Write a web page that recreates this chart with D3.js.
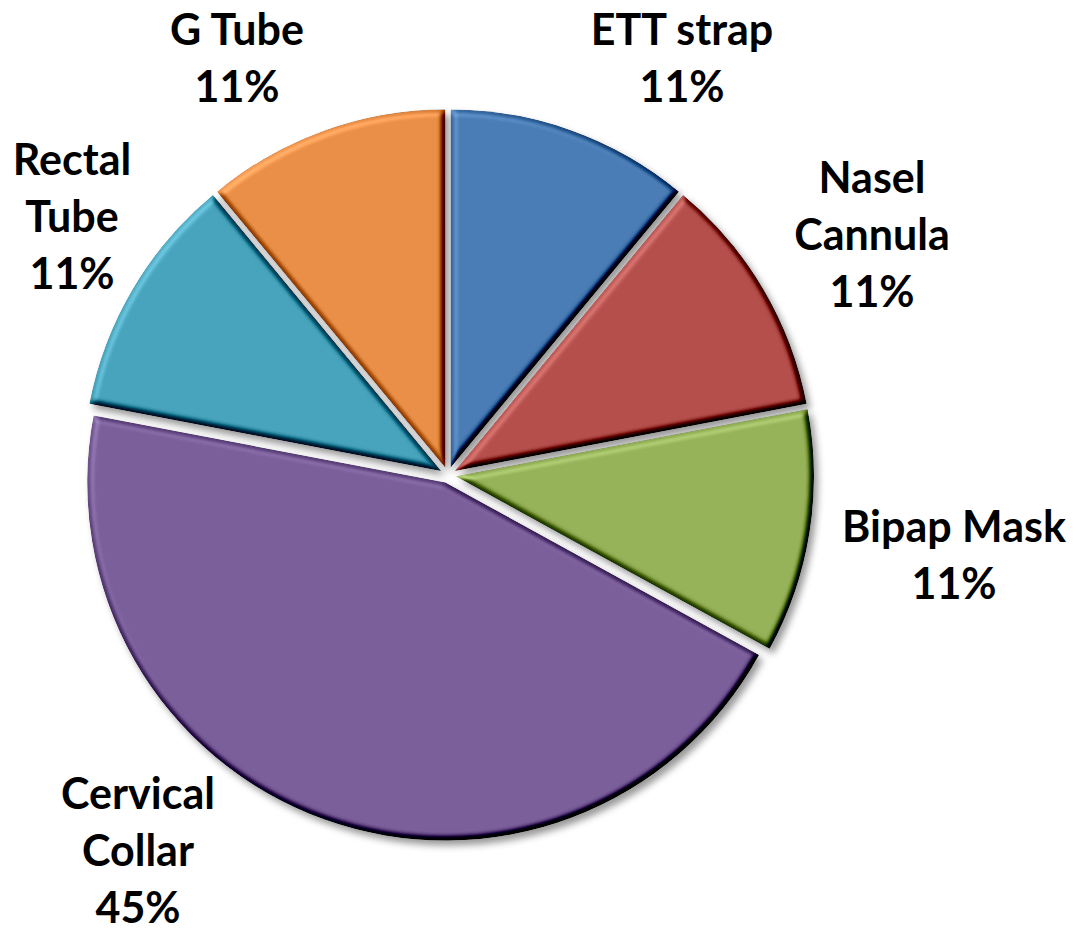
<!DOCTYPE html>
<html>
<head>
<meta charset="utf-8">
<script src="https://cdn.jsdelivr.net/npm/d3@7"></script>
<style>
  html, body { margin: 0; padding: 0; background: #ffffff; }
  svg { display: block; }
  .lbl { font-family: Lato, "Open Sans", sans-serif; font-weight: 700; fill: #000; }
</style>
</head>
<body>
<svg id="chart" width="1076" height="932"></svg>
<script>
// ---- data ----
const categories = ["ETT strap", "Nasel Cannula", "Bipap Mask", "Cervical Collar", "Rectal Tube", "G Tube"];
const values = [11, 11, 11, 45, 11, 11];
const colors = ["#4a7cb6", "#b54f4b", "#96b35a", "#7a5f9b", "#48a4bd", "#e98f48"];
// wrapped label lines (as shown in the chart)
const labelLines = [
  ["ETT strap"],
  ["Nasel", "Cannula"],
  ["Bipap Mask"],
  ["Cervical", "Collar"],
  ["Rectal", "Tube"],
  ["G Tube"]
];

// ---- layout ----
const W = 1076, H = 932;
const cx = 448, cy = 475, R = 358, explode = 8;
// label anchor: centre x and baseline of first line (layout only)
const labelAnchor = [
  [682, 45], [872, 193], [954, 542], [138, 809], [72, 175], [237, 45]
];
const lineH = 57;
const fontSize = 43;

const svg = d3.select("#chart");
const defs = svg.append("defs");

// shadow filter
const fs = defs.append("filter").attr("id", "shadow")
  .attr("x", "-20%").attr("y", "-20%").attr("width", "140%").attr("height", "140%");
fs.append("feGaussianBlur").attr("in", "SourceAlpha").attr("stdDeviation", 3.5).attr("result", "sb");
fs.append("feOffset").attr("in", "sb").attr("dx", 4).attr("dy", 5).attr("result", "so");
fs.append("feFlood").attr("flood-color", "#000").attr("flood-opacity", 0.4).attr("result", "fl");
fs.append("feComposite").attr("in", "fl").attr("in2", "so").attr("operator", "in");

// bevel filter
const fb = defs.append("filter").attr("id", "bevel")
  .attr("x", "-10%").attr("y", "-10%").attr("width", "120%").attr("height", "120%")
  .attr("color-interpolation-filters", "sRGB");
fb.append("feGaussianBlur").attr("in", "SourceAlpha").attr("stdDeviation", 3).attr("result", "b");
const dl = fb.append("feDiffuseLighting").attr("in", "b").attr("surfaceScale", 6)
  .attr("diffuseConstant", 1).attr("lighting-color", "#fff").attr("result", "d");
dl.append("feDistantLight").attr("azimuth", 225).attr("elevation", 60);
fb.append("feComposite").attr("in", "SourceGraphic").attr("in2", "d").attr("operator", "arithmetic")
  .attr("k1", 0).attr("k2", 1).attr("k3", 1).attr("k4", -0.866).attr("result", "lit");
fb.append("feComposite").attr("in", "lit").attr("in2", "SourceAlpha").attr("operator", "in");

const data = categories.map((c, i) => ({ name: c, v: values[i], color: colors[i], lines: labelLines[i], anchor: labelAnchor[i] }));
const pie = d3.pie().sort(null).value(d => d.v).startAngle(0).endAngle(2 * Math.PI);
const arcs = pie(data);
const arc = d3.arc().innerRadius(0).outerRadius(R);

function off(d) {
  const m = (d.startAngle + d.endAngle) / 2;
  return [Math.sin(m) * explode, -Math.cos(m) * explode];
}

const g = svg.append("g").attr("transform", `translate(${cx},${cy})`);

// shadows first
g.append("g").selectAll("path").data(arcs).join("path")
  .attr("d", arc)
  .attr("transform", d => `translate(${off(d)})`)
  .attr("fill", "#000")
  .attr("filter", "url(#shadow)");

// slices
g.append("g").selectAll("path").data(arcs).join("path")
  .attr("d", arc)
  .attr("transform", d => `translate(${off(d)})`)
  .attr("fill", d => d.data.color)
  .attr("filter", "url(#bevel)");

// labels
const fmt = d3.format(".0f");
const total = d3.sum(values);
const lg = svg.append("g");
data.forEach(d => {
  const t = lg.append("text").attr("class", "lbl")
    .attr("text-anchor", "middle")
    .attr("font-size", fontSize)
    .attr("x", d.anchor[0]).attr("y", d.anchor[1]);
  const lines = d.lines.concat([fmt(d.v / total * 100) + "%"]);
  lines.forEach((ln, i) => {
    t.append("tspan").attr("x", d.anchor[0]).attr("y", d.anchor[1] + i * lineH).text(ln);
  });
});
</script>
</body>
</html>
